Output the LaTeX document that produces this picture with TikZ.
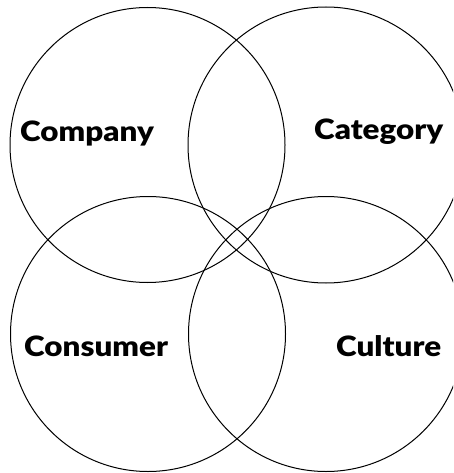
\documentclass[tikz,border=0pt]{standalone}
\usepackage{fontspec}
\newfontfamily\heavyfont{Lato}[UprightFont=* Black]
% heavy label, widened a little
\newcommand{\widelabel}[1]{\scalebox{1.12}[1]{#1}}
\begin{document}
\begin{tikzpicture}[x=1pt,y=-1pt,
  ring/.style={draw=black,line width=1pt},
  lbl/.style={font=\heavyfont\fontsize{28}{30}\selectfont,inner sep=0pt,anchor=base west}]
  \useasboundingbox (0,0) rectangle (453,473);
  \begin{scope}
    \clip (0,0) rectangle (453,473);
    \draw[ring] (147.5,145) circle[radius=137.5];
    \draw[ring] (326,145) circle[radius=138];
    \draw[ring] (148,334) circle[radius=137.5];
    \draw[ring] (326,334) circle[radius=137.5];
  \end{scope}
  \node[lbl] (company) at (20,142) {\widelabel{Company}};
  \node[lbl] (category) at (314,140) {\widelabel{Category}};
  \node[lbl] (consumer) at (24,356) {\widelabel{Consumer}};
  \node[lbl] (culture) at (336,356) {\widelabel{Culture}};
\end{tikzpicture}
\end{document}
